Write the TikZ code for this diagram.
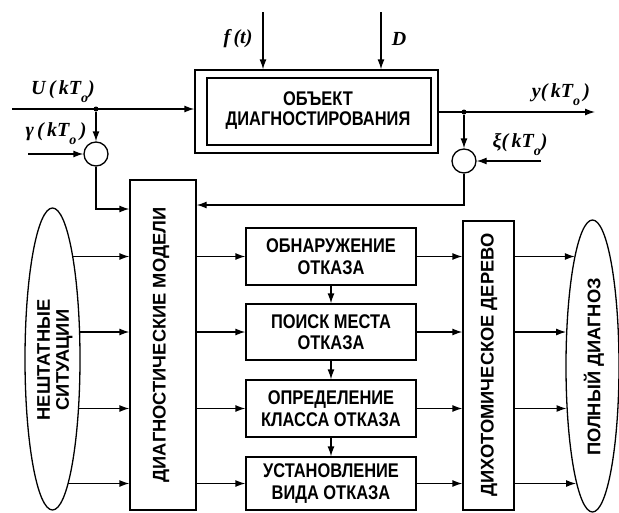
\documentclass[tikz,border=0pt]{standalone}
\usepackage{fontspec}
\setmainfont{Liberation Sans}
\newfontfamily\hfont[FakeStretch=0.83]{Liberation Sans}
\newfontfamily\labfont{Liberation Serif}
\usetikzlibrary{arrows.meta,shapes.geometric}
\newcommand{\sbo}{\raisebox{-0.4em}{\fontsize{14}{14}\selectfont o}}
\begin{document}
\begin{tikzpicture}[x=1pt,y=-1pt,line width=1.3pt,
  >={Latex[length=10pt,width=7pt]},
  blk/.style={draw,rectangle,inner sep=0pt,align=center,
    font=\hfont\bfseries\fontsize{19.8}{21.5}\selectfont},
  vtext/.style={rotate=90,inner sep=0pt,align=center,
    font=\bfseries\fontsize{18.3}{19}\selectfont},
  oval/.style={draw,ellipse,inner sep=0pt},
  sumc/.style={draw,circle,minimum size=24pt,inner sep=0pt},
  lab/.style={inner sep=0pt,font=\labfont\bfseries\itshape\fontsize{20}{22}\selectfont},
  dotc/.style={fill,circle,inner sep=0pt,minimum size=5pt}]
\useasboundingbox (0,0) rectangle (619,512);

% object block
\node[draw,rectangle,inner sep=0pt,minimum width=243pt,minimum height=83pt] (obj) at (316.5,111.5) {};
\node[blk,minimum width=224pt,minimum height=67pt] (objin) at (319,111.5) {};
\node[inner sep=0pt,align=center,font=\hfont\bfseries\fontsize{19.8}{20.5}\selectfont] (objt) at (318,110.5) {ОБЪЕКТ\\ДИАГНОСТИРОВАНИЯ};

% disturbance inputs
\coordinate (fin) at (263,12);
\coordinate (din) at (381,12);
\draw[->] (fin) -- (fin |- obj.north);
\draw[->] (din) -- (din |- obj.north);
\node[lab] (lf) at (238,39) {f\,(t)};
\node[lab] (ld) at (399,39) {D};

% input U
\coordinate (uin) at (12,109);
\node[dotc] (du) at (96,109) {};
\draw[->] (uin) -- (uin -| obj.west);
\node[lab] (lu) at (63,92) {U\,(\,kT\sbo)};
\node[sumc] (c1) at (96,154) {};
\draw[->] (du) -- (c1.north);
\coordinate (gin) at (28,154);
\draw[->] (gin) -- (c1.west);
\node[lab] (lg) at (56,134) {γ\,(\,kT\sbo\,)};

% output y
\coordinate (yout) at (595,112);
\node[dotc] (dy) at (464,112) {};
\draw[->] (obj.east |- yout) -- (yout);
\node[lab] (ly) at (561,95) {y(\,kT\sbo\,)};
\node[sumc] (c2) at (464,161) {};
\draw[->] (dy) -- (c2.north);
\coordinate (xin) at (541,161);
\draw[->] (xin) -- (c2.east);
\node[lab] (lx) at (520,145) {ξ(\,kT\sbo)};

% diagnostic models
\node[blk,minimum width=66pt,minimum height=330pt] (dm) at (163,345) {};
\node[vtext] (dmt) at (161,345) {ДИАГНОСТИЧЕСКИЕ МОДЕЛИ};
\coordinate (fbl) at (96,209);
\coordinate (fbr) at (464,205);
\draw[->] (c1.south) -- (fbl) -- (fbl -| dm.west);
\draw[->] (c2.south) -- (fbr) -- (fbr -| dm.east);

% middle blocks
\node[blk,minimum width=170pt,minimum height=57pt] (b1) at (331,256.5) {ОБНАРУЖЕНИЕ\\ОТКАЗА};
\node[blk,minimum width=170pt,minimum height=56pt] (b2) at (331,332) {ПОИСК МЕСТА\\ОТКАЗА};
\node[blk,minimum width=170pt,minimum height=57pt] (b3) at (331,408.5) {ОПРЕДЕЛЕНИЕ\\КЛАССА ОТКАЗА};
\node[blk,minimum width=170pt,minimum height=53pt] (b4) at (331,483.5) {УСТАНОВЛЕНИЕ\\ВИДА ОТКАЗА};
\draw[->] (b1.south) -- (b2.north);
\draw[->] (b2.south) -- (b3.north);
\draw[->] (b3.south) -- (b4.north);

% dichotomic tree
\node[blk,minimum width=51pt,minimum height=289pt] (dt) at (488.5,365.5) {};
\node[vtext] (dtt) at (489,365) {ДИХОТОМИЧЕСКОЕ ДЕРЕВО};

% ellipses
\node[oval,minimum width=55pt,minimum height=302pt] (ell) at (52.5,359) {};
\node[vtext] (ellt) at (55,360) {НЕШТАТНЫЕ\\СИТУАЦИИ};
\node[oval,minimum width=53pt,minimum height=292pt] (elr) at (592.5,366) {};
\node[vtext] (elrt) at (594,367) {ПОЛНЫЙ ДИАГНОЗ};

% arrows ellipse -> models -> blocks -> tree -> ellipse
\draw[->] (ell.79 |- b1) -- (dm.west |- b1);
\draw[->] (ell.45 |- b2) -- (dm.west |- b2);
\draw[->] (ell.-62 |- b3) -- (dm.west |- b3);
\draw[->] (ell.-83 |- b4) -- (dm.west |- b4);
\draw[->] (dm.east |- b1) -- (b1.west);
\draw[->] (dm.east |- b2) -- (b2.west);
\draw[->] (dm.east |- b3) -- (b3.west);
\draw[->] (dm.east |- b4) -- (b4.west);
\draw[->] (b1.east) -- (b1.east -| dt.west);
\draw[->] (b2.east) -- (b2.east -| dt.west);
\draw[->] (b3.east) -- (b3.east -| dt.west);
\draw[->] (b4.east) -- (b4.east -| dt.west);
\draw[->] (dt.east |- b1) -- (elr.99 |- b1);
\draw[->] (dt.east |- b2) -- (elr.127 |- b2);
\draw[->] (dt.east |- b3) -- (elr.-121 |- b3);
\draw[->] (dt.east |- b4) -- (elr.-98 |- b4);
\end{tikzpicture}
\end{document}
